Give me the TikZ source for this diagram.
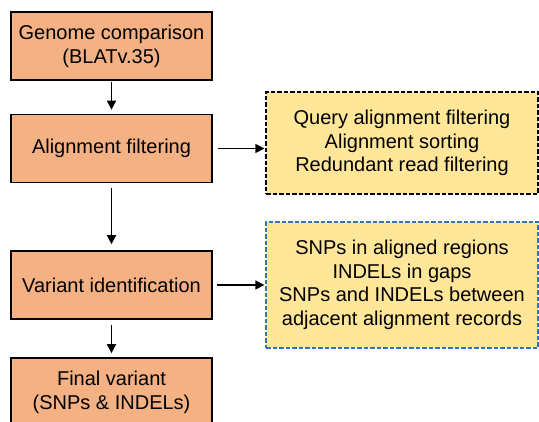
\documentclass[tikz,border=0pt]{standalone}
\usepackage{fontspec}
\setmainfont{Liberation Sans}
\usetikzlibrary{arrows.meta,positioning}
\definecolor{stepfill}{HTML}{F4B183}
\definecolor{notefill}{HTML}{FFE699}
\definecolor{noteblue}{HTML}{2E75B6}
\tikzset{
  stepbox/.style={draw=black, line width=1.6pt, fill=stepfill, minimum width=201pt,
    minimum height=68pt, align=center, inner sep=0pt,
    font=\fontsize{20}{24}\selectfont},
  notebox/.style={draw=black, dash pattern=on 4.5pt off 2pt, line width=1.3pt, fill=notefill,
    minimum width=272pt, align=center, inner sep=0pt, font=\fontsize{20}{23.5}\selectfont},
  flow/.style={-{Triangle[length=9pt,width=9pt]}, line width=1.5pt}
}
\begin{document}
\begin{tikzpicture}[x=1pt,y=1pt]
  \useasboundingbox (0,0) rectangle (539,422);
  \clip (0,0) rectangle (539,422);
  % main pipeline
  \node[stepbox] (cmp) at (111.5,376) {Genome comparison\\(BLATv.35)};
  \node[stepbox] (flt) at (111.5,273.5) {Alignment filtering};
  \node[stepbox] (var) at (111.5,137) {Variant identification};
  \node[stepbox] (fin) at (111.5,30) {Final variant\\(SNPs \& INDELs)};
  % detail notes
  \node[notebox, minimum height=102pt] (fltnote) at (402,279) {Query alignment filtering\\Alignment sorting\\Redundant read filtering};
  \node[notebox, draw=noteblue, minimum height=126pt] (varnote) at (402,137) {SNPs in aligned regions\\INDELs in gaps\\SNPs and INDELs between\\adjacent alignment records};
  % connectors
  \draw[flow] ([yshift=-1pt]cmp.south) -- ([yshift=4pt]flt.north);
  \draw[flow] ([yshift=-5pt]flt.south) -- ([yshift=6pt]var.north);
  \draw[flow] ([yshift=-5pt]var.south) -- ([yshift=4pt]fin.north);
  \draw[flow] ([xshift=5pt]flt.east) -- ([xshift=-1pt]fltnote.west |- flt.east);
  \draw[flow] ([xshift=4pt]var.east) -- ([xshift=-1pt]varnote.west |- var.east);
\end{tikzpicture}
\end{document}
